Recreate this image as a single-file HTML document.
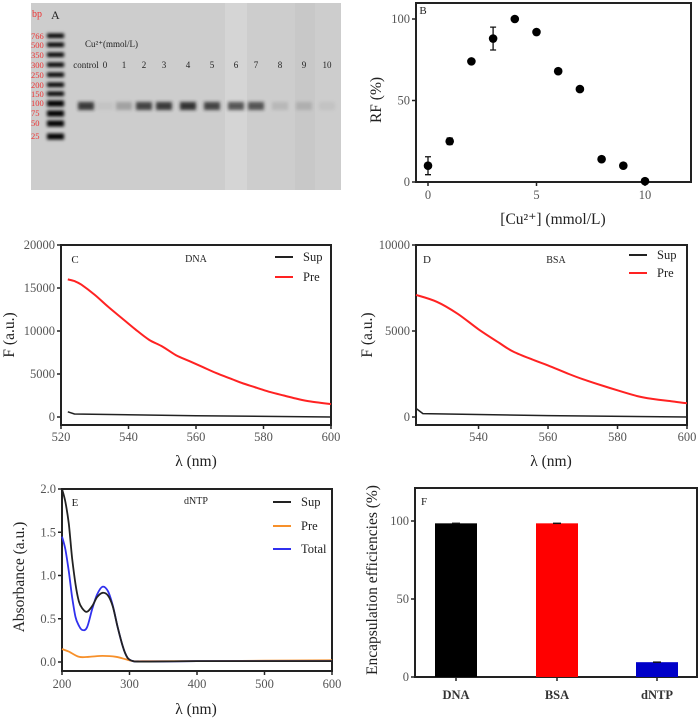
<!DOCTYPE html>
<html><head><meta charset="utf-8"><style>
body{margin:0;background:#fff}
svg{display:block;font-family:"Liberation Serif",serif}
.tk{font-size:12.5px;fill:#555}
.ax{fill:none;stroke:#222;stroke-width:2}
</style></head><body>
<svg id="fig" width="700" height="721" viewBox="0 0 700 721" xmlns="http://www.w3.org/2000/svg">
<defs><filter id="bl" x="-50%" y="-100%" width="200%" height="300%"><feGaussianBlur stdDeviation="1.5"/></filter></defs>
<g id="panelA">
<rect x="31" y="3" width="310" height="187" fill="#cdcdcd"/>
<rect x="225" y="3" width="22" height="187" fill="#d5d5d5"/>
<rect x="295" y="3" width="20" height="187" fill="#c8c8c8"/>
<text x="32" y="17" font-size="10" fill="#e33">bp</text>
<text x="51" y="19" font-size="12" fill="#222">A</text>
<text x="85" y="47" font-size="9" fill="#222">Cu²⁺(mmol/L)</text>
</g>
<g id="panelB"></g>
<g id="panelC"></g>
<g id="panelD"></g>
<g id="panelE"></g>
<g id="panelF"></g>
</svg>
<script>
// ---- data ----
const ladderLabels=["766","500","350","300","250","200","150","100","75","50","25"];
const laneLabels=["control","0","1","2","3","4","5","6","7","8","9","10"];
const laneIntensity=[0.85,0.05,0.25,0.8,0.85,0.9,0.8,0.7,0.7,0.12,0.15,0.06];
const bX=[0,1,2,3,4,5,6,7,8,9,10];
const bY=[10,25,74,88,100,92,68,57,14,10,0.5];
const bErr=[5.5,2,0,7,0,0,0,0,0,0,0];
const cWl=[522,524,526,530,534,538,542,546,550,554,558,562,566,570,574,578,582,586,590,594,600];
const cPre=[16000,15800,15400,14200,12800,11500,10200,9000,8200,7200,6500,5800,5100,4500,3900,3400,2900,2500,2100,1800,1500];
const cSupWl=[522,524,560,600];
const cSup=[600,350,150,0];
const dWl=[522,528,534,540,546,550,556,560,566,570,576,580,586,590,596,600];
const dPre=[7100,6700,6000,5100,4300,3800,3300,3000,2500,2200,1800,1550,1200,1050,900,800];
const dSupWl=[522,524,560,600];
const dSup=[500,200,80,0];
const eWl=[200,205,210,215,220,225,230,237,245,252,260,268,275,282,290,297,305,315,330,400,500,600];
const eSup=[2.0,1.85,1.6,1.2,0.9,0.7,0.62,0.58,0.65,0.75,0.80,0.77,0.65,0.42,0.18,0.05,0.01,0.005,0.005,0.01,0.01,0.01];
const eTotal=[1.45,1.3,1.05,0.75,0.52,0.42,0.37,0.40,0.62,0.78,0.87,0.82,0.66,0.42,0.18,0.05,0.01,0.005,0.005,0.01,0.01,0.01];
const ePreWl=[200,210,225,240,260,280,295,305,320,400,500,600];
const ePre=[0.15,0.12,0.06,0.06,0.07,0.06,0.03,0.01,0.01,0.01,0.015,0.02];
const fCats=["DNA","BSA","dNTP"];
const fVals=[98.5,98.5,9.5];
const fColors=["#000","#f00","#0000c8"];

const NS="http://www.w3.org/2000/svg";
function mk(p,tag,at,txt){const e=document.createElementNS(NS,tag);for(const k in at)e.setAttribute(k,at[k]);if(txt!=null)e.textContent=txt;p.appendChild(e);return e;}
function lin(d0,d1,r0,r1){return v=>r0+(v-d0)*(r1-r0)/(d1-d0);}

// ---- gel ----
const A=document.getElementById('panelA');
const ladY=[36,45,55,65,75,85,94,103,113,123,136];
ladderLabels.forEach((l,i)=>{
 const t=mk(A,'text',{x:31,y:ladY[i]+3,'font-size':8.5,fill:'#e33'},l);
 
 const b=mk(A,'rect',{x:47,y:ladY[i]-2.5,width:17,height:i>6?6:4.5,fill:'#000',filter:'url(#bl)'});
 
});
const laneX=[86,105,124,144,164,188,212,236,256,280,304,327];
laneLabels.forEach((l,i)=>{
 const t=mk(A,'text',{x:laneX[i],y:68,'font-size':9,fill:'#222','text-anchor':'middle'},l);
 
 const b=mk(A,'rect',{x:laneX[i]-8,y:102,width:16,height:8,fill:'#222',opacity:laneIntensity[i],filter:'url(#bl)'});
 
});

function frame(g,x0,y0,x1,y1){mk(g,'rect',{x:x0,y:y0,width:x1-x0,height:y1-y0,class:'ax'});}
function yTicks(g,x0,ys,vals,labs){vals.forEach((v,i)=>{mk(g,'line',{x1:x0-4,y1:ys(v),x2:x0,y2:ys(v),stroke:'#222','stroke-width':1.5});const t=mk(g,'text',{x:x0-6,y:ys(v)+4,class:'tk','text-anchor':'end'},labs[i]);});}
function xTicks(g,yb,xs,vals,labs,ty){vals.forEach((v,i)=>{mk(g,'line',{x1:xs(v),y1:yb,x2:xs(v),y2:yb+4,stroke:'#222','stroke-width':1.5});const t=mk(g,'text',{x:xs(v),y:ty,class:'tk','text-anchor':'middle'},labs[i]);});}
function label(g,x,y,txt,size,rot,name){const t=mk(g,'text',{x:x,y:y,'font-size':size,fill:'#222','text-anchor':'middle',transform:rot?`rotate(-90 ${x} ${y})`:''},txt);return t;}
function line(g,xs,ys,X,Y,col,w,name,smooth){
 const P=X.map((x,i)=>[xs(x),ys(Y[i])]);let d='M'+P[0][0].toFixed(1)+','+P[0][1].toFixed(1);
 for(let i=0;i<P.length-1;i++){const p1=P[i],p2=P[i+1];
  if(!smooth){d+=`L${p2[0].toFixed(1)},${p2[1].toFixed(1)}`;continue;}
  const p0=P[i-1]||P[i],p3=P[i+2]||p2;
  const c1=[p1[0]+(p2[0]-p0[0])/6,p1[1]+(p2[1]-p0[1])/6],c2=[p2[0]-(p3[0]-p1[0])/6,p2[1]-(p3[1]-p1[1])/6];
  d+=`C${c1[0].toFixed(1)},${c1[1].toFixed(1)} ${c2[0].toFixed(1)},${c2[1].toFixed(1)} ${p2[0].toFixed(1)},${p2[1].toFixed(1)}`;}
 const p=mk(g,'path',{d:d,fill:'none',stroke:col,'stroke-width':w,'stroke-linejoin':'round'});}
function legend(g,x,y,txt,col){const l=mk(g,'line',{x1:x,y1:y,x2:x+18,y2:y,stroke:col,'stroke-width':2});const t=mk(g,'text',{x:x+28,y:y+4,'font-size':12.5,fill:'#222'},txt);}

// ---- B ----
{const g=document.getElementById('panelB');const xs=lin(0,10,428,645),ys=lin(0,100,182,19);
frame(g,416,3,691,182);
yTicks(g,416,ys,[0,50,100],["0","50","100"]);xTicks(g,182,xs,[0,5,10],["0","5","10"],199);
label(g,423,14,"B",11,false,'panel-b-label');
label(g,553,224,"[Cu²⁺] (mmol/L)",15.5,false,'x-axis-title');
label(g,381,100,"RF (%)",15.5,true,'y-axis-title');
bX.forEach((x,i)=>{if(bErr[i]){const e=mk(g,'path',{d:`M${xs(x)-3},${ys(bY[i]+bErr[i])}h6M${xs(x)},${ys(bY[i]+bErr[i])}V${ys(bY[i]-bErr[i])}M${xs(x)-3},${ys(bY[i]-bErr[i])}h6`,stroke:'#111','stroke-width':1.3,fill:'none'});}
const c=mk(g,'circle',{cx:xs(x),cy:ys(bY[i]),r:4.3,fill:'#000'});});}

// ---- C ----
{const g=document.getElementById('panelC');const xs=lin(520,600,61,331),ys=lin(0,20000,417,245);
frame(g,61,245,331,425);
yTicks(g,61,ys,[0,5000,10000,15000,20000],["0","5000","10000","15000","20000"]);xTicks(g,425,xs,[520,540,560,580,600],["520","540","560","580","600"],441);
label(g,75,263,"C",11,false,'panel-c-label');label(g,196,262,"DNA",10,false,'panel-c-title');
label(g,196,466,"λ (nm)",15.5,false,'x-axis-title');label(g,14,335,"F (a.u.)",15.5,true,'y-axis-title');
line(g,xs,ys,cSupWl,cSup,'#222',1.5,'sup-line',false);line(g,xs,ys,cWl,cPre,'#f22',2,'pre-line',true);
legend(g,275,257,"Sup","#222");legend(g,275,277,"Pre","#f22");}

// ---- D ----
{const g=document.getElementById('panelD');const xs=lin(522,600,416,687),ys=lin(0,10000,417,245);
frame(g,416,245,687,425);
yTicks(g,416,ys,[0,5000,10000],["0","5000","10000"]);xTicks(g,425,xs,[540,560,580,600],["540","560","580","600"],441);
label(g,427,263,"D",11,false,'panel-d-label');label(g,556,263,"BSA",10,false,'panel-d-title');
label(g,551,466,"λ (nm)",15.5,false,'x-axis-title');label(g,372,335,"F (a.u.)",15.5,true,'y-axis-title');
line(g,xs,ys,dSupWl,dSup,'#222',1.5,'sup-line',false);line(g,xs,ys,dWl,dPre,'#f22',2,'pre-line',true);
legend(g,629,255,"Sup","#222");legend(g,629,273,"Pre","#f22");}

// ---- E ----
{const g=document.getElementById('panelE');const xs=lin(200,600,62,332),ys=lin(0,2,662,489);
frame(g,62,489,332,671);
yTicks(g,62,ys,[0,0.5,1,1.5,2],["0.0","0.5","1.0","1.5","2.0"]);xTicks(g,671,xs,[200,300,400,500,600],["200","300","400","500","600"],688);
label(g,75,506,"E",11,false,'panel-e-label');label(g,196,504,"dNTP",10,false,'panel-e-title');
label(g,196,714,"λ (nm)",15.5,false,'x-axis-title');label(g,24,577,"Absorbance (a.u.)",15.5,true,'y-axis-title');
line(g,xs,ys,ePreWl,ePre,'#f7902a',1.8,'pre-line',true);line(g,xs,ys,eWl,eTotal,'#3030ee',1.8,'total-line',true);line(g,xs,ys,eWl,eSup,'#222',1.8,'sup-line',true);
legend(g,273,502,"Sup","#222");legend(g,273,526,"Pre","#f7902a");legend(g,273,549,"Total","#3030ee");}

// ---- F ----
{const g=document.getElementById('panelF');const ys=lin(0,100,677,521);const cx=[456,557,657];
frame(g,415,488,697,677);
yTicks(g,415,ys,[0,50,100],["0","50","100"]);
label(g,424,505,"F",11,false,'panel-f-label');
label(g,377,580,"Encapsulation efficiencies (%)",15.5,true,'y-axis-title');
fCats.forEach((c,i)=>{const r=mk(g,'rect',{x:cx[i]-21,y:ys(fVals[i]),width:42,height:677-ys(fVals[i]),fill:fColors[i]});
mk(g,'line',{x1:cx[i]-4,y1:ys(fVals[i]),x2:cx[i]+4,y2:ys(fVals[i]),stroke:'#111','stroke-width':1.5});
mk(g,'line',{x1:cx[i],y1:677,x2:cx[i],y2:681,stroke:'#222','stroke-width':1.5});
const t=mk(g,'text',{x:cx[i],y:699,'font-size':12.5,fill:'#333','text-anchor':'middle','font-weight':'bold'},c);});}
</script>
</body></html>
